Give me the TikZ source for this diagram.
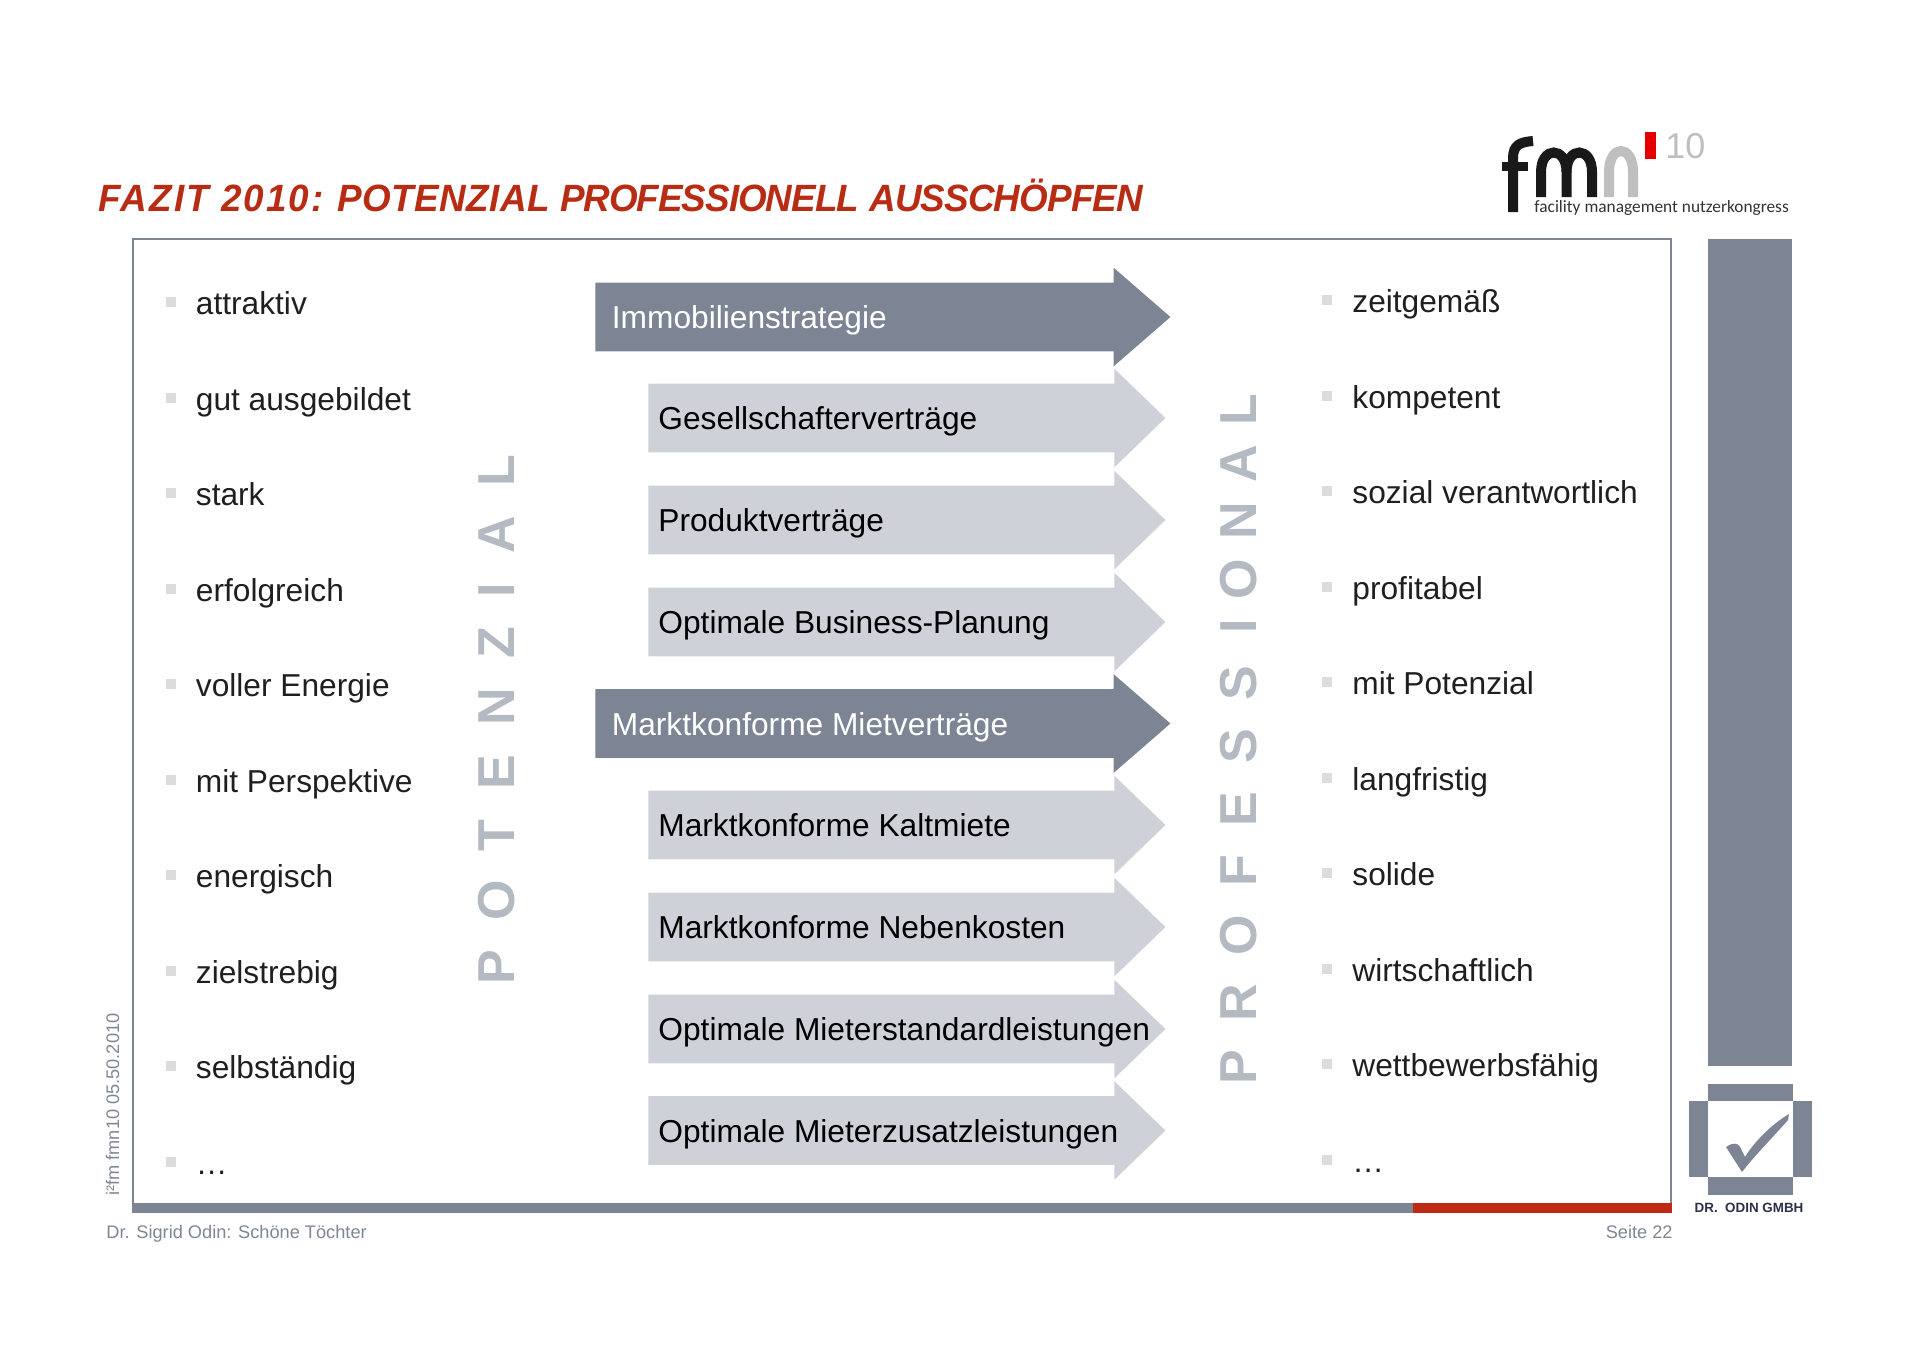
\documentclass[tikz,border=0pt]{standalone}
\usepackage{fontspec}
\setmainfont{Liberation Sans}
\newfontfamily\potenzialfont[LetterSpace=56.5]{Liberation Sans Bold}
\newfontfamily\professionalfont{Liberation Sans Bold}
\newfontfamily\logofont{Carlito}
\usetikzlibrary{shapes.arrows}
\definecolor{slategrey}{HTML}{7D8595}
\definecolor{palegrey}{HTML}{CED1D7}
\definecolor{wordgrey}{HTML}{B4BAC2}
\definecolor{bulletgrey}{HTML}{DCDCDC}
\definecolor{footgrey}{HTML}{7F8794}
\definecolor{titlered}{HTML}{B92C14}
\definecolor{barred}{HTML}{C02A14}
\definecolor{sealnavy}{HTML}{2B3048}
\tikzset{
  listitem/.style={anchor=west, inner sep=0pt, text height=13pt, text depth=1.5pt, text=black!88, font=\fontsize{15.85}{19}\selectfont},
  bullet/.style={fill=bulletgrey, minimum size=5pt, inner sep=0pt},
  darkarrow/.style={single arrow, fill=slategrey, inner sep=0pt, inner ysep=17pt, minimum width=49pt, minimum height=287.5pt, single arrow head extend=7.5pt, single arrow tip angle=82, anchor=tail},
  lightarrow/.style={single arrow, fill=palegrey, inner sep=0pt, inner ysep=17pt, minimum width=49pt, minimum height=258.5pt, single arrow head extend=7.5pt, single arrow tip angle=88, anchor=tail},
  darklabel/.style={anchor=west, inner sep=0pt, text=white, text height=13pt, text depth=1.5pt, font=\fontsize{15.85}{19}\selectfont},
  lightlabel/.style={anchor=west, inner sep=0pt, text=black, text height=13pt, text depth=1.5pt, font=\fontsize{15.85}{19}\selectfont},
  bigword/.style={rotate=90, inner sep=0pt, text=wordgrey},
  footer/.style={inner sep=0pt, text=footgrey, font=\fontsize{9.1}{12}\selectfont}
}
\begin{document}
\begin{tikzpicture}[x=0.5pt,y=-0.5pt]
\useasboundingbox (0,0) rectangle (1920,1357);

% title
\node[anchor=base west, inner sep=0pt, text=titlered, xscale=0.97, font=\fontsize{19}{22}\selectfont\bfseries\itshape] (title) at (98,211) {{\addfontfeature{LetterSpace=5.6}FAZIT 2010:} {\addfontfeature{LetterSpace=1.2}POTENZIAL} {\addfontfeature{LetterSpace=-2.8}PROFESSIONELL} {\addfontfeature{LetterSpace=-2.4}AUSSCH\"OPFEN}};

% frame and bottom bar
\draw[slategrey, line width=1pt] (133,239) rectangle (1671,1208);
\fill[slategrey] (132,1203) rectangle (1413,1213);
\fill[barred] (1413,1203) rectangle (1672,1213);

% left list
\node[bullet] (la) at (171,302) {};
\node[listitem] (ta) at (195.5,303) {attraktiv};
\node[bullet] (lb) at (171,398) {};
\node[listitem] (tb) at (195.5,399) {gut ausgebildet};
\node[bullet] (lc) at (171,493) {};
\node[listitem] (tc) at (195.5,494) {stark};
\node[bullet] (ld) at (171,589) {};
\node[listitem] (td) at (195.5,590) {erfolgreich};
\node[bullet] (le) at (171,684) {};
\node[listitem] (te) at (195.5,685) {voller Energie};
\node[bullet] (lf) at (171,780) {};
\node[listitem] (tf) at (195.5,781) {mit Perspektive};
\node[bullet] (lg) at (171,875) {};
\node[listitem] (tg) at (195.5,876) {energisch};
\node[bullet] (lh) at (171,971) {};
\node[listitem] (th) at (195.5,972) {zielstrebig};
\node[bullet] (li) at (171,1066) {};
\node[listitem] (ti) at (195.5,1067) {selbst\"andig};
\node[bullet] (lj) at (171,1162) {};
\node[listitem] (tj) at (195.5,1163) {\dots};

% right list
\node[bullet] (ra) at (1327,300) {};
\node[listitem] (ua) at (1352,301) {zeitgem\"a\ss};
\node[bullet] (rb) at (1327,396) {};
\node[listitem] (ub) at (1352,397) {kompetent};
\node[bullet] (rc) at (1327,491) {};
\node[listitem] (uc) at (1352,492) {sozial verantwortlich};
\node[bullet] (rd) at (1327,587) {};
\node[listitem] (ud) at (1352,588) {profitabel};
\node[bullet] (re) at (1327,682) {};
\node[listitem] (ue) at (1352,683) {mit Potenzial};
\node[bullet] (rf) at (1327,778) {};
\node[listitem] (uf) at (1352,779) {langfristig};
\node[bullet] (rg) at (1327,873) {};
\node[listitem] (ug) at (1352,874) {solide};
\node[bullet] (rh) at (1327,969) {};
\node[listitem] (uh) at (1352,970) {wirtschaftlich};
\node[bullet] (ri) at (1327,1064) {};
\node[listitem] (ui) at (1352,1065) {wettbewerbsf\"ahig};
\node[bullet] (rj) at (1327,1160) {};
\node[listitem] (uj) at (1352,1161) {\dots};

% big words
\node[bigword, font=\fontsize{26}{30}\selectfont\potenzialfont] (potenzial) at (496.5,720) {POTENZIAL};
\node[bigword, font=\fontsize{26}{30}\selectfont\professionalfont] (professional) at (1238.5,739) {{\addfontfeature{LetterSpace=54.4}PROFESS}\kern16pt{\addfontfeature{LetterSpace=37.5}IONAL}};

% arrows
\node[darkarrow] (a1) at (595,317) {};
\node[darklabel] (s1) at (611.5,317) {Immobilienstrategie};
\node[lightarrow] (a2) at (648,418) {};
\node[lightlabel] (s2) at (658,418) {Gesellschaftervertr\"age};
\node[lightarrow] (a3) at (648,520) {};
\node[lightlabel] (s3) at (658,520) {Produktvertr\"age};
\node[lightarrow] (a4) at (648,622) {};
\node[lightlabel] (s4) at (658,622) {Optimale Business-Planung};
\node[darkarrow] (a5) at (595,723.5) {};
\node[darklabel] (s5) at (611.5,723.5) {Marktkonforme Mietvertr\"age};
\node[lightarrow] (a6) at (648,825) {};
\node[lightlabel] (s6) at (658,825) {Marktkonforme Kaltmiete};
\node[lightarrow] (a7) at (648,927) {};
\node[lightlabel] (s7) at (658,927) {Marktkonforme Nebenkosten};
\node[lightarrow] (a8) at (648,1029) {};
\node[lightlabel] (s8) at (658,1029) {Optimale Mieterstandardleistungen};
\node[lightarrow] (a9) at (648,1130.5) {};
\node[lightlabel] (s9) at (658,1130.5) {Optimale Mieterzusatzleistungen};

% footer
\node[footer, anchor=base west] (author) at (106,1238) {Dr. Sigrid Odin: Sch\"one T\"ochter};
\node[footer, anchor=base east] (page) at (1673,1238) {Seite 22};
\node[footer, anchor=base west, rotate=90] (stamp) at (119,1196) {i²fm fmn10 05.50.2010};

% right column with seal
\fill[slategrey] (1708,239) rectangle (1792,1066);
\fill[slategrey] (1708,1084) rectangle (1793,1101);
\fill[slategrey] (1689,1101) rectangle (1708,1177);
\fill[slategrey] (1793,1101) rectangle (1812,1177);
\fill[slategrey] (1708,1177) rectangle (1793,1195);
\fill[slategrey] (1726,1147) .. controls (1733,1142) and (1738,1143) .. (1740,1147) -- (1745,1157) .. controls (1755,1140) and (1775,1122) .. (1789,1114) -- (1788,1120) .. controls (1775,1135) and (1755,1155) .. (1742,1172) -- cycle;
\node[inner sep=0pt, text=sealnavy, font=\fontsize{6.7}{8}\selectfont\bfseries] (seal) at (1749,1208) {DR.\ \ ODIN GMBH};

% logo
\draw[black!90, line width=5pt] (1513,212) -- (1513,158) .. controls (1513,145) and (1520,142) .. (1533,141);
\draw[black!90, line width=4.5pt] (1502,166) -- (1528,166);
\draw[black!90, line width=5pt] (1541,197) -- (1541,172) .. controls (1541,146) and (1566.5,146) .. (1566.5,172) -- (1566.5,197);
\draw[black!90, line width=5pt] (1566.5,172) .. controls (1566.5,146) and (1592,146) .. (1592,172) -- (1592,197);
\draw[black!25, line width=5pt] (1609,197) -- (1609,172) .. controls (1609,144) and (1633,144) .. (1633,172) -- (1633,197);
\fill[red!90!black] (1645,132) rectangle (1656,159);
\node[anchor=base west, inner sep=0pt, text=black!25, font=\fontsize{18}{20}\selectfont] (ten) at (1665,158) {10};
\node[anchor=base west, inner sep=0pt, text=black!80, font=\fontsize{8.67}{10}\selectfont\logofont] (fmtext) at (1534,212) {facility management nutzerkongress};
\end{tikzpicture}
\end{document}
